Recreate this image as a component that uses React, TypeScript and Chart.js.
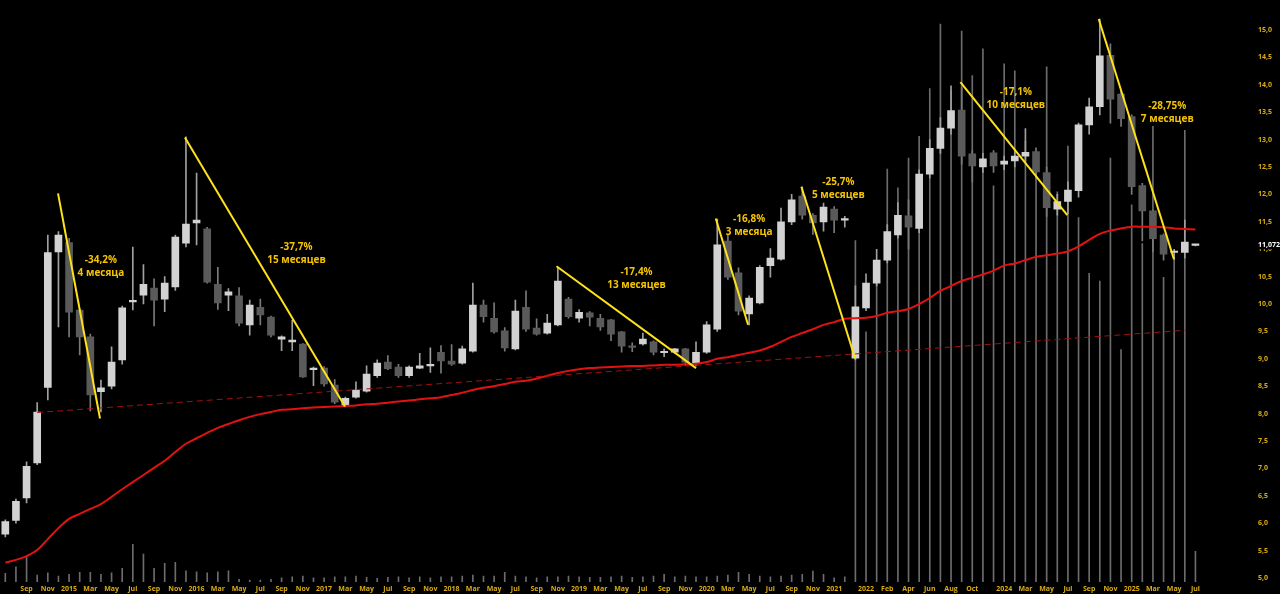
import React, { useEffect, useRef } from 'react';
import { Chart, registerables } from 'chart.js';
Chart.register(...registerables);

// monthly candles, index 0 = Jul 2014 ... index 112 = Jul 2025 (with a data gap after index 79)
const opens = [5.80,6.05,6.46,7.10,8.48,10.95,11.12,9.89,9.40,8.40,
8.50,8.98,10.04,10.16,10.29,10.09,10.31,11.11,11.48,11.37,
10.36,10.16,10.15,9.62,9.94,9.76,9.36,9.31,9.27,8.80,
8.83,8.52,8.16,8.30,8.41,8.69,8.94,8.85,8.69,8.83,
8.87,9.12,8.96,8.92,9.14,9.98,9.74,9.51,9.18,9.94,
9.56,9.47,9.62,10.09,9.74,9.84,9.74,9.71,9.49,9.22,
9.27,9.31,9.11,9.12,9.18,8.92,9.12,9.54,11.15,10.57,
9.82,10.02,10.70,10.82,11.50,11.97,11.62,11.50,11.73,11.53,
9.01,9.93,10.38,10.80,11.26,11.61,11.38,12.37,12.84,13.21,
13.54,12.74,12.50,12.76,12.55,12.61,12.70,12.78,12.40,11.73,
11.87,12.07,13.27,13.60,14.54,13.83,13.42,12.16,11.70,11.26,
10.94,10.94,11.07];
const closes = [6.03,6.40,7.04,8.03,10.94,11.26,9.85,9.40,8.34,8.47,
8.94,9.93,10.06,10.36,10.07,10.38,11.22,11.46,11.53,10.40,
10.02,10.22,9.65,9.98,9.80,9.43,9.40,9.34,8.67,8.83,
8.54,8.21,8.28,8.43,8.72,8.92,8.82,8.69,8.85,8.87,
8.90,8.96,8.90,9.18,9.98,9.77,9.49,9.20,9.87,9.54,
9.45,9.65,10.42,9.77,9.85,9.76,9.58,9.45,9.23,9.21,
9.36,9.12,9.11,9.18,8.94,9.12,9.62,11.08,10.49,9.87,
10.11,10.67,10.84,11.50,11.90,11.62,11.48,11.77,11.53,11.53,
9.95,10.38,10.80,11.32,11.62,11.40,12.37,12.84,13.21,13.53,
12.70,12.52,12.65,12.52,12.61,12.70,12.77,12.41,11.76,11.87,
12.08,13.27,13.60,14.53,13.74,13.38,12.14,11.70,11.19,10.91,
10.95,11.13,11.072];
const highs = [6.06,6.44,7.12,8.20,11.26,11.32,11.20,9.92,9.45,8.61,
9.22,9.96,11.04,10.72,10.46,10.50,11.26,13.05,12.39,11.40,
10.67,10.28,10.30,10.07,10.09,9.78,9.42,9.70,9.28,8.85,
8.86,8.62,8.30,8.58,8.87,8.98,9.06,8.90,8.87,9.10,
9.20,9.24,9.26,9.23,10.38,10.07,10.02,9.57,10.07,10.24,
9.73,9.81,10.67,10.12,9.90,9.86,9.81,9.72,9.50,9.29,
9.47,9.33,9.18,9.19,9.19,9.31,9.68,11.55,11.26,10.66,
10.15,10.70,11.01,11.75,12.00,12.14,11.65,11.84,11.78,11.60,
10.33,10.55,11.00,11.45,11.85,11.90,12.45,13.00,13.40,13.98,
13.95,12.80,12.75,12.80,12.70,12.80,13.20,12.85,12.50,12.00,
12.23,13.30,13.76,15.20,14.75,13.90,13.45,12.20,11.72,11.28,
11.00,11.53,11.08];
const lows = [5.75,6.00,6.37,7.07,8.25,9.58,9.40,9.07,8.05,8.03,
8.45,8.90,9.89,10.00,9.60,9.86,10.25,11.04,11.08,10.38,
9.90,9.88,9.60,9.43,9.62,9.40,9.15,9.15,8.66,8.51,
8.50,8.18,8.12,8.28,8.39,8.66,8.80,8.66,8.66,8.82,
8.75,8.74,8.88,8.90,9.12,9.67,9.47,9.14,9.16,9.50,
9.43,9.45,9.60,9.74,9.67,9.60,9.52,9.33,9.12,9.13,
9.25,9.07,9.04,9.10,8.88,8.87,9.10,9.50,10.45,9.80,
9.62,10.00,10.49,10.80,11.45,11.55,11.27,11.33,11.30,11.40,
8.98,9.88,10.33,10.75,11.20,11.00,11.30,12.30,12.75,13.10,
12.55,12.23,12.40,12.40,12.45,12.50,12.60,12.30,11.60,11.62,
11.65,11.95,13.10,13.45,13.30,13.24,12.00,11.15,10.95,10.80,
10.81,10.84,11.06];
const volumes = [8.7,15.3,25.3,7,9.3,6,7.7,9.7,9.7,7.7,
9.3,13.7,38,28,13.7,18.7,19.7,11.3,10.3,9.3,
10.3,11.3,2.7,2,2,2.7,4.3,5.3,6,4.3,
4.3,5.3,5.3,6,4.7,3.7,4.7,5.3,4.3,5.3,
4.3,5.3,5.3,6,7,6,6,9.7,6,5.3,
4.3,5.3,5.3,6,5.3,4.7,4.7,5.3,6,4.7,
5.3,6,7.7,5.3,6,5.3,5.3,6,7,9.7,
7.7,6,5.3,6,7,7.7,11,7.7,4.3,5.3,
344,252,309,416,397,427,449,497,562,495,
555,510,537,399,522,515,444,432,519,393,
439,367,311,303,427,234,380,341,459,307,
326,455,31];
const movingAvg = [5.28,5.33,5.40,5.51,5.71,5.91,6.08,6.17,6.26,6.35,
6.48,6.62,6.75,6.88,7.01,7.14,7.30,7.45,7.55,7.65,
7.74,7.81,7.88,7.94,7.99,8.03,8.07,8.08,8.10,8.11,
8.12,8.13,8.14,8.15,8.17,8.18,8.20,8.22,8.24,8.26,
8.28,8.30,8.34,8.38,8.43,8.47,8.50,8.54,8.58,8.60,
8.64,8.69,8.74,8.78,8.81,8.83,8.84,8.85,8.86,8.87,
8.87,8.88,8.89,8.89,8.90,8.91,8.94,9.00,9.03,9.07,
9.11,9.15,9.22,9.31,9.40,9.47,9.54,9.62,9.67,9.73,
9.74,9.75,9.78,9.84,9.87,9.91,10.00,10.11,10.24,10.33,
10.42,10.48,10.54,10.61,10.70,10.74,10.80,10.86,10.89,10.92,
10.96,11.05,11.17,11.28,11.34,11.38,11.41,11.41,11.41,11.40,
11.38,11.37,11.36];

const xTickIndex = [2,4,6,8,10,12,14,16,18,20,22,24,26,28,30,32,34,36,38,40,
42,44,46,48,50,52,54,56,58,60,62,64,66,68,70,72,74,76,78,
81,83,85,87,89,91,94,96,98,100,102,104,106,108,110,112];
const xTickText = ['Sep','Nov','2015','Mar','May','Jul','Sep','Nov','2016','Mar','May','Jul','Sep','Nov','2017','Mar','May','Jul','Sep','Nov',
'2018','Mar','May','Jul','Sep','Nov','2019','Mar','May','Jul','Sep','Nov','2020','Mar','May','Jul','Sep','Nov','2021',
'2022','Feb','Apr','Jun','Aug','Oct','2024','Mar','May','Jul','Sep','Nov','2025','Mar','May','Jul'];
const yTickValues = [5.0,5.5,6.0,6.5,7.0,7.5,8.0,8.5,9.0,9.5,10.0,10.5,11.0,11.5,12.0,12.5,13.0,13.5,14.0,14.5,15.0];

// long-term trend line (dashed) : [x1, y1, x2, y2]
const trendLine = [3, 8.02, 111, 9.52];
// drawn swing lines: [x1, y1, x2, y2]
const swingLines = [
  [4.96, 12.02, 8.91, 7.91],
  [16.9, 13.04, 31.96, 8.13],
  [51.87, 10.69, 65.0, 8.83],
  [66.86, 11.56, 69.9, 9.62],
  [74.92, 12.14, 79.97, 9.01],
  [89.88, 14.05, 99.94, 11.62],
  [102.9, 15.2, 109.97, 10.82],
];
const noteX = [9.0, 27.4, 59.4, 70.0, 78.4, 95.1, 109.35];
const noteY = [10.80, 11.03, 10.59, 11.55, 12.23, 13.87, 13.61];
const notePct = ['-34,2%', '-37,7%', '-17,4%', '-16,8%', '-25,7%', '-17,1%', '-28,75%'];
const noteDur = ['4 месяца', '15 месяцев', '13 месяцев', '3 месяца', '5 месяцев', '10 месяцев', '7 месяцев'];
const lastPrice = 11.072;
const lastPriceText = '11,072';

const GOLD = '#d9ad10';
const NOTE = '#f5c400';

const overlay = {
  id: 'overlay',
  afterDatasetsDraw(chart: any) {
    const { ctx, scales } = chart;
    const x = scales.x, y = scales.y;
    ctx.save();
    ctx.fillStyle = NOTE;
    ctx.font = 'bold 10px "Open Sans"';
    ctx.textAlign = 'center';
    ctx.textBaseline = 'middle';
    for (let i = 0; i < noteX.length; i++) {
      const px = x.getPixelForValue(noteX[i]);
      const py = y.getPixelForValue(noteY[i]);
      ctx.fillText(notePct[i], px, py);
      ctx.fillText(noteDur[i], px, py + 13);
    }
    ctx.restore();
  },
  afterDraw(chart: any) {
    const { ctx, scales, chartArea } = chart;
    const py = scales.y.getPixelForValue(lastPrice);
    const left = chartArea.right + 35;
    ctx.save();
    ctx.fillStyle = '#000';
    ctx.fillRect(left, py - 5, 30, 9);
    ctx.fillStyle = '#ffffff';
    ctx.font = 'bold 7px "Open Sans"';
    ctx.textAlign = 'left';
    ctx.textBaseline = 'middle';
    ctx.fillText(lastPriceText, left + 1, py);
    ctx.restore();
  },
};

export default function App() {
  const ref = useRef<HTMLCanvasElement>(null);
  useEffect(() => {
    document.body.style.margin = '0';
    document.body.style.background = '#000';
    const canvas = ref.current!;
    const up = opens.map((o, i) => closes[i] >= o);
    const datasets: any[] = [
      {
        type: 'bar', label: 'vol', yAxisID: 'yv', order: 10, grouped: false,
        data: volumes.map((v, i) => ({ x: i, y: v })),
        backgroundColor: '#6c6c6c', barThickness: 1,
      },
      {
        type: 'bar', label: 'wick', yAxisID: 'y', order: 9, grouped: false,
        data: lows.map((l, i) => ({ x: i, y: [l, highs[i]] })),
        backgroundColor: up.map(u => (u ? '#a0a0a0' : '#7a7a7a')), barThickness: 1,
      },
      {
        type: 'bar', label: 'body', yAxisID: 'y', order: 8, grouped: false,
        data: opens.map((o, i) => ({ x: i, y: [o, closes[i]] })),
        backgroundColor: up.map(u => (u ? '#d2d2d2' : '#5a5a5a')), barThickness: 7, minBarLength: 1.5,
      },
      {
        type: 'line', label: 'ma', yAxisID: 'y', order: 5,
        data: movingAvg.map((v, i) => ({ x: i, y: v })),
        borderColor: '#e31212', borderWidth: 2, pointRadius: 0, tension: 0.35, fill: false,
      },
      {
        type: 'line', label: 'trend', yAxisID: 'y', order: 4,
        data: [{ x: trendLine[0], y: trendLine[1] }, { x: trendLine[2], y: trendLine[3] }],
        borderColor: '#a51010', borderWidth: 1, borderDash: [6, 4], pointRadius: 0, fill: false,
      },
      ...swingLines.map((s, k) => ({
        type: 'line', label: 'swing' + k, yAxisID: 'y', order: 3,
        data: [{ x: s[0], y: s[1] }, { x: s[2], y: s[3] }],
        borderColor: '#ffe21a', borderWidth: 2, pointRadius: 0, fill: false,
      })),
    ];
    const chart = new Chart(canvas, {
      type: 'bar',
      data: { datasets },
      options: {
        animation: false,
        responsive: false,
        events: [],
        layout: { padding: 0 },
        plugins: { legend: { display: false }, tooltip: { enabled: false } },
        scales: {
          x: {
            type: 'linear', position: 'bottom', min: -0.5, max: 114.5, offset: false,
            grid: { display: true, color: 'transparent', drawOnChartArea: false, drawTicks: true, tickLength: 3 },
            border: { display: false },
            afterBuildTicks: (s: any) => { s.ticks = xTickIndex.map(v => ({ value: v })); },
            afterFit: (s: any) => { s.height = 12; },
            ticks: {
              autoSkip: false, maxRotation: 0, minRotation: 0, padding: 0,
              color: GOLD, font: { family: '"Open Sans"', size: 7, weight: 'bold' },
              callback: (_v: any, i: number) => xTickText[i],
            },
          },
          y: {
            type: 'linear', position: 'right', min: 4.927, max: 15.471,
            grid: { display: true, color: 'transparent', drawOnChartArea: false, drawTicks: true, tickLength: 36 },
            border: { display: false },
            afterBuildTicks: (s: any) => { s.ticks = yTickValues.map(v => ({ value: v })); },
            afterFit: (s: any) => { s.width = 58; },
            ticks: {
              padding: 0, color: GOLD, font: { family: '"Open Sans"', size: 7, weight: 'bold' },
              callback: (v: any) => Number(v).toFixed(1).replace('.', ','),
            },
          },
          yv: { type: 'linear', display: false, min: 0, max: 582 },
        },
      } as any,
      plugins: [overlay],
    });
    return () => chart.destroy();
  }, []);
  return (
    <div style={{ position: 'fixed', left: 0, top: 0, width: 1280, height: 594, background: '#000' }}>
      <canvas ref={ref} width={1280} height={594} style={{ display: 'block', width: 1280, height: 594 }} />
    </div>
  );
}
